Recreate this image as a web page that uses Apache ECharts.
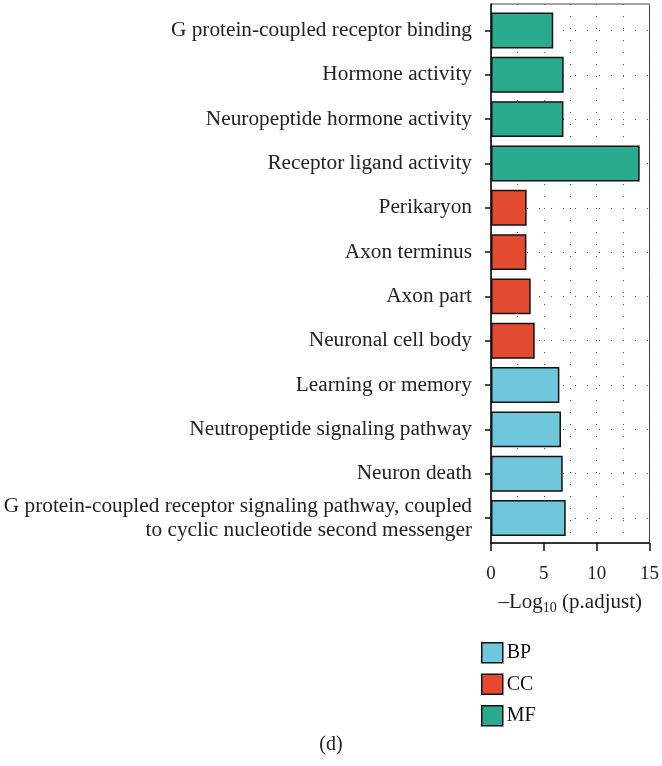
<!DOCTYPE html>
<html><head><meta charset="utf-8">
<script src="https://cdn.jsdelivr.net/npm/echarts@6/dist/echarts.min.js"></script>
<style>html,body{margin:0;padding:0;background:#fff}#c{width:662px;height:766px}</style>
</head><body><div id="c"></div>
<script>
const categories = [
  "G protein-coupled receptor binding",
  "Hormone activity",
  "Neuropeptide hormone activity",
  "Receptor ligand activity",
  "Perikaryon",
  "Axon terminus",
  "Axon part",
  "Neuronal cell body",
  "Learning or memory",
  "Neutropeptide signaling pathway",
  "Neuron death",
  "G protein-coupled receptor signaling pathway, coupled\nto cyclic nucleotide second messenger"
];
const groups = ["MF","MF","MF","MF","CC","CC","CC","CC","BP","BP","BP","BP"];
const values = [5.8, 6.77, 6.75, 13.85, 3.32, 3.3, 3.7, 4.07, 6.37, 6.52, 6.68, 6.96];
const legendOrder = ["BP","CC","MF"];
const colors = {BP:"#6FC7DC", CC:"#E44A2F", MF:"#2AAA8F"};
const xTicks = [0, 5, 10, 15];

const FONT = "Liberation Serif";
const DOT = {color: '#555', width: 1.1, type: [1, 11]};
const chart = echarts.init(document.getElementById('c'));
const series = legendOrder.map(g => ({
  name: g,
  type: 'bar',
  xAxisIndex: 0, yAxisIndex: 0,
  data: values.map((v, i) => groups[i] === g ? v : null),
  barWidth: '81%',
  barGap: '-100%',
  itemStyle: {color: colors[g], borderColor: '#111', borderWidth: 1.5},
  z: 3
}));

chart.setOption({
  animation: false,
  textStyle: {fontFamily: FONT},
  title: {
    text: '(d)', left: 'center', top: 730,
    textStyle: {fontFamily: FONT, fontSize: 20, fontWeight: 'normal', color: '#222'}
  },
  legend: {
    data: legendOrder,
    orient: 'vertical',
    left: 481, top: 642, padding: 0,
    itemWidth: 21, itemHeight: 20, itemGap: 10,
    icon: 'rect',
    textStyle: {fontFamily: FONT, fontSize: 20, color: '#111', padding: [0,0,0,-1]},
    itemStyle: {borderColor: '#111', borderWidth: 1.5}
  },
  grid: [
    {left: 491, right: 10, top: 8.3, bottom: 225.8, show: false},
    {left: 491, right: 10, top: 4, bottom: 223, show: true, borderColor: '#444', borderWidth: 1, backgroundColor: 'transparent'}
  ],
  xAxis: [
    {
      gridIndex: 0, type: 'value',
      min: xTicks[0], max: xTicks[xTicks.length - 1], interval: 5,
      show: false
    },
    {
      gridIndex: 1, type: 'value',
      min: xTicks[0], max: xTicks[xTicks.length - 1], interval: 5,
      axisLine: {show: true, lineStyle: {color: '#111', width: 1.5}},
      axisTick: {show: true, length: 8, lineStyle: {color: '#111', width: 1.5}},
      axisLabel: {fontFamily: FONT, fontSize: 19, color: '#222', margin: 22},
      splitLine: {show: true, lineStyle: DOT},
      minorTick: {show: false, splitNumber: 2},
      minorSplitLine: {show: true, lineStyle: DOT},
      name: '–Log{sub|10} (p.adjust)',
      nameLocation: 'middle',
      nameGap: 47,
      nameTextStyle: {
        fontFamily: FONT, fontSize: 21, color: '#222',
        rich: {sub: {fontFamily: FONT, fontSize: 14, verticalAlign: 'bottom', padding: [11,0,0,0], color: '#222'}}
      }
    }
  ],
  yAxis: [
    {
      gridIndex: 0,
      type: 'category',
      data: categories,
      inverse: true,
      axisLine: {show: false},
      axisTick: {show: true, alignWithLabel: true, length: 6, lineStyle: {color: '#111', width: 1.5}},
      axisLabel: {fontFamily: FONT, fontSize: 21.3, color: '#222', margin: 19, align: 'right', lineHeight: 24},
      splitLine: {show: true, alignWithLabel: true, lineStyle: DOT}
    },
    {
      gridIndex: 1,
      type: 'value', min: 0, max: 1,
      axisLine: {show: true, lineStyle: {color: '#111', width: 1.5}},
      axisTick: {show: false},
      axisLabel: {show: false},
      splitLine: {show: false}
    }
  ],
  series: series
});
</script>
</body></html>
